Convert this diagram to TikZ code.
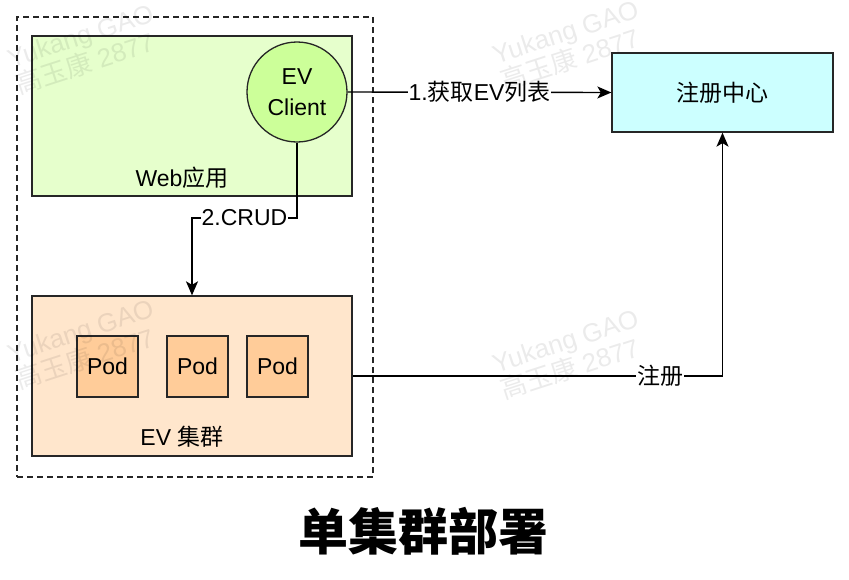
\documentclass[tikz,border=0pt]{standalone}
\usepackage{fontspec}
\setmainfont{Liberation Sans}
\newfontfamily\cjk{Noto Sans CJK SC}
\usetikzlibrary{arrows.meta}

\definecolor{webgreen}{HTML}{E6FFCC}
\definecolor{clientgreen}{HTML}{CCFF99}
\definecolor{clusterorange}{HTML}{FFE6CC}
\definecolor{podorange}{HTML}{FFCC99}
\definecolor{regcyan}{HTML}{CCFFFF}

\tikzset{
  box/.style={draw=black!85, line width=1.3pt, inner sep=0pt},
  pod/.style={box, fill=podorange, minimum size=61pt},
  conn/.style={draw=black, line width=1.4pt, -{Stealth[length=14pt, width=12pt, inset=3.5pt]}},
  lbl/.style={fill=white, inner sep=1pt},
  watermark/.style={text=black, text opacity=0.08, align=left, font=\fontsize{26}{28}\selectfont, rotate=18},
}

\begin{document}
\begin{tikzpicture}[x=1pt, y=-1pt, font=\fontsize{23}{31}\selectfont]
  \useasboundingbox[fill=white] (0,0) rectangle (849,579);
  % Boxes
  \node[draw=black!85, dashed, dash pattern=on 6pt off 4pt, line width=1.3pt,
        minimum width=356pt, minimum height=460pt] (frame) at (195,247) {};
  \node[box, fill=webgreen, minimum width=320pt, minimum height=160pt] (web) at (192,116) {};
  \node (webtxt) at (182,178) {Web{\cjk 应用}};
  \node[box, circle, fill=clientgreen, minimum size=100pt, align=center] (client) at (297,92) {EV\\Client};
  \node[box, fill=clusterorange, minimum width=320pt, minimum height=160pt] (cluster) at (192,376) {};
  \node[pod] (pod1) at (107.5,366.5) {Pod};
  \node[pod] (pod2) at (197.5,366.5) {Pod};
  \node[pod] (pod3) at (277.5,366.5) {Pod};
  \node (clustertxt) at (182,437) {EV {\cjk 集群}};
  \node[box, fill=regcyan, minimum width=221pt, minimum height=79pt] (reg) at (722.5,92.5) {{\cjk 注册中心}};
  % Connectors
  \coordinate (bend) at (192,218);
  \draw[conn] (client.east) -- node[lbl] {1.{\cjk 获取}EV{\cjk 列表}} (reg.west);
  \draw[conn] (client.south) |- node[lbl, pos=0.75] {2.CRUD} (bend) -- (cluster.north);
  \draw[conn] (cluster.east) -| node[lbl, pos=0.416] {{\cjk 注册}} (reg.south);
  % Title
  \node[font=\fontsize{50}{52}\selectfont\cjk\bfseries] (title) at (423,531) {单集群部署};
  % Watermarks
  \foreach \wx/\wy [count=\i] in {85/50, 570/46, 85/345, 570/355} {
    \node[watermark] (wm\i) at (\wx,\wy) {Yukang GAO\\{\cjk 高玉康} 2877};
  }
\end{tikzpicture}
\end{document}
